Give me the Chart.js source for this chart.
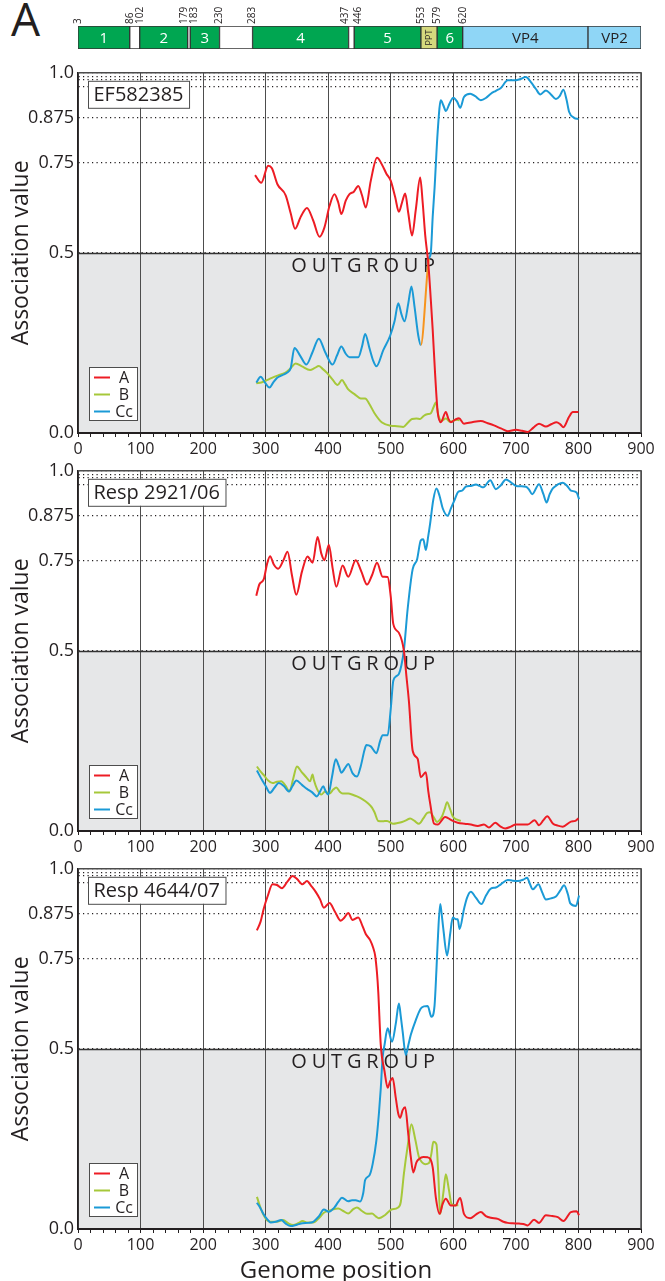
<!DOCTYPE html>
<html>
<head>
<meta charset="utf-8">
<script src="https://cdn.jsdelivr.net/npm/chart.js@4.4.1/dist/chart.umd.min.js"></script>
<style>
  body { margin: 0; background: #fff; }
  #wrap { position: relative; width: 665px; height: 1281px; overflow: hidden; font-family: "Open Sans", sans-serif; color: #231f20; }
  #wrap canvas { position: absolute; left: 0; }
  #letter { position: absolute; left: 11px; top: -5px; font-size: 46px; line-height: 1; }
  #xtitle { position: absolute; left: 0; width: 672px; top: 1254px; text-align: center; font-size: 24px; line-height: 30px; }
</style>
</head>
<body>
<div id="wrap">
  <div id="letter">A</div>
  <canvas id="map" width="665" height="60" style="top:0"></canvas>
  <canvas id="c1" width="665" height="407" style="top:58px"></canvas>
  <canvas id="c2" width="665" height="407" style="top:456px"></canvas>
  <canvas id="c3" width="665" height="427" style="top:854px"></canvas>
  <div id="xtitle">Genome position</div>
</div>
<script>
// genome map (nucleotide positions)
const mapName  = ['1', '', '2', '', '3', '', '4', '', '5', 'PPT', '6', 'VP4', 'VP2'];
const mapStart = [3, 86, 102, 179, 183, 230, 283, 437, 446, 553, 579, 620, 821];
const mapEnd   = [86, 102, 179, 183, 230, 283, 437, 446, 553, 579, 620, 821, 906];
const mapKind  = ['cre', 'gap', 'cre', 'gap', 'cre', 'gap', 'cre', 'gap', 'cre', 'ppt', 'cre', 'vp', 'vp'];
const mapTicks = [3, 86, 102, 179, 183, 230, 283, 437, 446, 553, 579, 620];

// axes
const yTickValues = [0, 0.5, 0.75, 0.875, 1.0];
const yTickText   = ['0.0', '0.5', '0.75', '0.875', '1.0'];
const yDotValues  = [0.9625, 0.98, 0.99];
const outgroupLevel = 0.5;

// panel names
const panelNames = ['EF582385', 'Resp 2921/06', 'Resp 4644/07'];

// EF582385
const ef_A = [[283,0.716],[293,0.695],[304,0.742],[310,0.735],[319,0.69],[332,0.66],[340,0.61],[347,0.567],[356,0.6],[366,0.625],[376,0.59],[386,0.545],[394,0.571],[402,0.63],[410,0.663],[416,0.64],[421,0.608],[428,0.645],[434,0.663],[441,0.67],[448,0.686],[454,0.66],[460,0.626],[468,0.7],[478,0.764],[486,0.745],[493,0.72],[500,0.70],[507,0.655],[513,0.614],[518,0.64],[523,0.665],[528,0.61],[534,0.548],[540,0.62],[547,0.709],[551,0.64],[555,0.55],[560,0.47],[564,0.37],[567,0.287],[571,0.16],[575,0.058],[580,0.03],[588,0.058],[592,0.04],[596,0.03],[603,0.037],[609,0.041],[617,0.026],[630,0.03],[644,0.033],[655,0.027],[665,0.021],[677,0.012],[687,0.005],[700,0.009],[710,0.006],[719,0.003],[728,0.015],[737,0.026],[748,0.018],[757,0.025],[765,0.03],[771,0.024],[776,0.016],[785,0.045],[791,0.058],[800,0.058]];
const ef_B = [[285,0.138],[293,0.14],[300,0.145],[310,0.153],[320,0.16],[331,0.167],[340,0.18],[348,0.193],[358,0.185],[371,0.175],[378,0.18],[385,0.186],[391,0.178],[398,0.167],[407,0.148],[415,0.133],[422,0.147],[427,0.135],[432,0.121],[442,0.108],[452,0.096],[459,0.096],[466,0.08],[474,0.055],[486,0.029],[500,0.02],[510,0.019],[520,0.017],[528,0.03],[534,0.039],[541,0.04],[547,0.039],[553,0.048],[558,0.052],[564,0.055],[568,0.07],[572,0.085],[576,0.05],[581,0.034],[588,0.04],[595,0.031],[605,0.037],[610,0.035]];
const ef_Cc = [[285,0.14],[292,0.156],[299,0.14],[306,0.126],[312,0.14],[318,0.153],[326,0.16],[334,0.167],[340,0.18],[346,0.236],[355,0.215],[365,0.19],[375,0.225],[385,0.262],[395,0.225],[407,0.19],[414,0.215],[421,0.24],[428,0.22],[434,0.21],[441,0.21],[448,0.21],[454,0.24],[459,0.275],[466,0.235],[472,0.2],[477,0.185],[488,0.23],[499,0.27],[506,0.31],[512,0.36],[517,0.33],[522,0.31],[528,0.36],[533,0.407],[538,0.35],[544,0.27],[548,0.244],[561,0.484],[564,0.5],[567,0.6],[570,0.68],[575,0.837],[580,0.924],[584,0.91],[588,0.894],[594,0.915],[600,0.931],[606,0.92],[611,0.903],[617,0.933],[627,0.942],[635,0.935],[644,0.924],[652,0.93],[660,0.942],[668,0.95],[676,0.958],[687,0.979],[697,0.979],[706,0.982],[716,0.988],[724,0.974],[732,0.955],[739,0.94],[748,0.951],[756,0.94],[764,0.927],[770,0.935],[776,0.953],[781,0.925],[785,0.892],[793,0.875],[800,0.872]];
const ef_bridge = [548, 561];   // Cc stretch drawn in orange

// Resp 2921/06
const r21_A = [[285,0.653],[290,0.685],[297,0.699],[302,0.74],[307,0.763],[313,0.74],[320,0.728],[328,0.75],[335,0.775],[342,0.71],[349,0.656],[358,0.72],[367,0.762],[375,0.745],[383,0.816],[389,0.77],[394,0.752],[401,0.795],[407,0.73],[413,0.678],[423,0.737],[432,0.706],[444,0.752],[453,0.72],[462,0.684],[470,0.71],[478,0.745],[487,0.706],[495,0.705],[500,0.65],[504,0.575],[513,0.55],[521,0.5],[525,0.43],[529,0.36],[535,0.223],[543,0.2],[548,0.149],[556,0.163],[560,0.11],[563,0.076],[569,0.021],[575,0.018],[587,0.039],[597,0.03],[607,0.023],[618,0.02],[628,0.018],[639,0.014],[649,0.018],[657,0.01],[667,0.023],[675,0.013],[683,0.007],[692,0.012],[700,0.018],[710,0.018],[719,0.018],[730,0.03],[737,0.016],[744,0.03],[750,0.041],[759,0.021],[767,0.015],[775,0.012],[788,0.026],[795,0.028],[800,0.035]];
const r21_B = [[286,0.179],[292,0.165],[298,0.153],[304,0.14],[311,0.133],[318,0.137],[325,0.138],[332,0.125],[338,0.11],[344,0.145],[350,0.179],[357,0.165],[366,0.147],[371,0.138],[375,0.157],[377,0.142],[382,0.117],[389,0.101],[395,0.11],[402,0.104],[408,0.115],[413,0.121],[418,0.11],[423,0.104],[432,0.104],[440,0.1],[446,0.096],[455,0.088],[463,0.078],[470,0.065],[474,0.052],[480,0.028],[487,0.027],[494,0.028],[504,0.02],[511,0.022],[518,0.025],[525,0.03],[531,0.035],[538,0.028],[545,0.02],[552,0.035],[558,0.05],[563,0.052],[568,0.04],[574,0.025],[578,0.03],[582,0.041],[586,0.06],[590,0.08],[595,0.06],[599,0.041],[605,0.032],[612,0.028]];
const r21_Cc = [[286,0.168],[294,0.142],[300,0.125],[307,0.106],[314,0.12],[321,0.133],[329,0.125],[337,0.11],[343,0.125],[349,0.14],[358,0.128],[366,0.117],[374,0.108],[382,0.096],[387,0.11],[392,0.124],[396,0.11],[400,0.101],[406,0.15],[412,0.199],[417,0.18],[421,0.162],[427,0.175],[432,0.186],[439,0.16],[446,0.151],[452,0.18],[458,0.225],[461,0.239],[468,0.235],[477,0.216],[483,0.25],[487,0.266],[495,0.266],[500,0.34],[504,0.417],[509,0.43],[513,0.436],[517,0.46],[521,0.502],[527,0.617],[535,0.727],[542,0.754],[548,0.807],[552,0.81],[556,0.78],[560,0.82],[563,0.855],[568,0.92],[573,0.951],[578,0.93],[583,0.896],[591,0.875],[596,0.895],[601,0.915],[608,0.942],[614,0.945],[620,0.956],[628,0.958],[636,0.962],[642,0.958],[648,0.954],[659,0.974],[668,0.949],[676,0.96],[684,0.976],[692,0.968],[700,0.958],[708,0.957],[716,0.956],[721,0.948],[726,0.935],[737,0.963],[744,0.935],[749,0.912],[754,0.935],[759,0.951],[767,0.962],[775,0.967],[782,0.958],[788,0.945],[797,0.94],[801,0.921]];

// Resp 4644/07
const r44_A = [[286,0.829],[292,0.854],[297,0.89],[303,0.923],[311,0.957],[318,0.955],[326,0.946],[335,0.965],[343,0.98],[350,0.972],[359,0.957],[366,0.966],[373,0.952],[380,0.936],[387,0.915],[393,0.892],[402,0.905],[411,0.88],[420,0.856],[426,0.865],[432,0.877],[439,0.858],[448,0.865],[455,0.84],[460,0.819],[467,0.802],[472,0.78],[475,0.759],[478,0.71],[480,0.658],[484,0.511],[490,0.438],[495,0.392],[499,0.41],[503,0.419],[508,0.364],[512,0.32],[515,0.309],[519,0.33],[523,0.338],[528,0.263],[532,0.2],[536,0.157],[541,0.185],[545,0.194],[552,0.2],[559,0.199],[567,0.171],[572,0.088],[578,0.042],[583,0.07],[588,0.084],[596,0.065],[604,0.065],[608,0.08],[611,0.086],[617,0.042],[627,0.03],[636,0.04],[644,0.047],[652,0.036],[660,0.031],[671,0.028],[680,0.02],[687,0.017],[695,0.016],[705,0.015],[712,0.014],[719,0.01],[729,0.026],[737,0.017],[748,0.038],[758,0.036],[767,0.033],[776,0.022],[788,0.047],[797,0.049],[801,0.038]];
const r44_B = [[286,0.089],[293,0.053],[298,0.035],[303,0.023],[310,0.02],[318,0.02],[328,0.025],[336,0.016],[344,0.011],[352,0.016],[359,0.022],[367,0.018],[376,0.018],[385,0.03],[393,0.045],[400,0.05],[405,0.053],[416,0.057],[424,0.05],[432,0.043],[440,0.055],[446,0.06],[454,0.05],[462,0.042],[470,0.043],[476,0.035],[481,0.03],[491,0.039],[496,0.047],[501,0.054],[511,0.059],[516,0.075],[521,0.154],[527,0.23],[533,0.291],[539,0.25],[545,0.2],[550,0.185],[555,0.18],[561,0.183],[565,0.21],[568,0.242],[573,0.235],[576,0.15],[579,0.042],[584,0.1],[588,0.152],[593,0.108],[597,0.07],[602,0.066],[608,0.066]];
const r44_Cc = [[286,0.073],[291,0.06],[296,0.043],[302,0.028],[308,0.018],[316,0.02],[325,0.025],[332,0.015],[340,0.008],[350,0.012],[359,0.016],[368,0.017],[376,0.02],[385,0.035],[393,0.054],[401,0.048],[410,0.06],[416,0.075],[422,0.087],[432,0.077],[438,0.08],[444,0.08],[451,0.076],[456,0.1],[459,0.136],[466,0.149],[471,0.18],[477,0.246],[481,0.32],[484,0.39],[487,0.477],[490,0.511],[495,0.557],[502,0.52],[508,0.57],[513,0.626],[516,0.59],[519,0.548],[524,0.483],[528,0.51],[532,0.539],[540,0.58],[548,0.612],[553,0.618],[559,0.619],[565,0.589],[570,0.621],[573,0.72],[575,0.796],[579,0.902],[581,0.88],[584,0.833],[590,0.759],[595,0.82],[599,0.865],[604,0.86],[607,0.86],[610,0.833],[617,0.888],[622,0.92],[628,0.936],[636,0.92],[645,0.902],[652,0.925],[660,0.945],[668,0.948],[676,0.957],[687,0.969],[695,0.967],[703,0.966],[712,0.97],[718,0.975],[722,0.96],[727,0.943],[736,0.957],[742,0.935],[748,0.915],[756,0.918],[764,0.923],[771,0.94],[777,0.954],[783,0.93],[787,0.904],[796,0.897],[801,0.926]];

const RED = '#ed1c24', GREEN = '#a6c83a', BLUE = '#1b9ad6', ORANGE = '#f7941d';
const INK = '#231f20', FRAME = '#4d4d4d';
const FONT = '"Open Sans", sans-serif';

Chart.defaults.font.family = FONT;
Chart.defaults.color = INK;
Chart.defaults.animation = false;

// ---------- genome map ----------
const kindColor = { cre: '#00a651', gap: '#ffffff', ppt: '#d5d97d', vp: '#8fd6f6' };

const mapLabels = {
  id: 'mapLabels',
  afterDatasetsDraw(chart) {
    const ctx = chart.ctx;
    const meta = chart.getDatasetMeta(0);
    const xs = chart.scales.x;
    ctx.save();
    meta.data.forEach((bar, i) => {
      const name = mapName[i];
      if (!name) return;
      const cx = (bar.x + bar.base) / 2;
      const cy = bar.y;
      ctx.textAlign = 'center';
      ctx.textBaseline = 'middle';
      if (mapKind[i] === 'ppt') {
        ctx.save();
        ctx.translate(cx, cy);
        ctx.rotate(-Math.PI / 2);
        ctx.font = '9px ' + FONT;
        ctx.fillStyle = INK;
        ctx.fillText(name, 0, 0.5);
        ctx.restore();
      } else {
        ctx.font = '15px ' + FONT;
        ctx.fillStyle = mapKind[i] === 'cre' ? '#ffffff' : INK;
        ctx.fillText(name, cx, cy + 1);
      }
    });
    // boundary positions above the bar, pushed apart where they crowd
    ctx.font = '10px ' + FONT;
    ctx.fillStyle = INK;
    ctx.textAlign = 'left';
    ctx.textBaseline = 'middle';
    mapTicks.forEach((v, i) => {
      let nudge = 0;
      if (i < mapTicks.length - 1 && mapTicks[i + 1] - v < 12) nudge -= 3.5;
      if (i > 0 && v - mapTicks[i - 1] < 12) nudge += 3.5;
      ctx.save();
      ctx.translate(xs.getPixelForValue(v) + nudge, chart.chartArea.top - 2);
      ctx.rotate(-Math.PI / 2);
      ctx.fillText(String(v), 0, 0);
      ctx.restore();
    });
    ctx.restore();
  }
};

new Chart(document.getElementById('map'), {
  type: 'bar',
  data: {
    labels: ['genome'],
    datasets: [{
      data: mapStart.map((s, i) => ({ y: 'genome', x: [s, mapEnd[i]] })),
      backgroundColor: mapKind.map(k => kindColor[k]),
      borderColor: '#333333',
      borderWidth: 1,
      borderSkipped: false,
      barThickness: 23
    }]
  },
  options: {
    indexAxis: 'y',
    responsive: false,
    layout: { padding: { left: 78, right: 24, top: 26, bottom: 11 } },
    scales: {
      x: { type: 'linear', min: 3, max: 906, display: false },
      y: { display: false }
    },
    plugins: { legend: { display: false }, tooltip: { enabled: false } }
  },
  plugins: [mapLabels]
});

// ---------- association panels ----------
const panelDeco = {
  id: 'panelDeco',
  beforeDraw(chart) {
    const { ctx, chartArea: ca, scales: { y } } = chart;
    const yMid = y.getPixelForValue(outgroupLevel);
    ctx.save();
    ctx.fillStyle = '#e6e7e8';
    ctx.fillRect(ca.left, yMid, ca.right - ca.left, ca.bottom - yMid);
    ctx.restore();
  },
  beforeDatasetsDraw(chart) {
    const { ctx, chartArea: ca, scales: { x, y } } = chart;
    const yMid = Math.round(y.getPixelForValue(outgroupLevel)) + 0.5;
    ctx.save();
    ctx.strokeStyle = FRAME;
    ctx.lineWidth = 1.5;
    ctx.beginPath();
    ctx.moveTo(ca.left, ca.top);
    ctx.lineTo(ca.right, ca.top);
    ctx.lineTo(ca.right, ca.bottom);
    ctx.stroke();
    ctx.strokeStyle = '#333333';
    ctx.lineWidth = 1.6;
    ctx.beginPath();
    ctx.moveTo(ca.left, yMid);
    ctx.lineTo(ca.right, yMid);
    ctx.stroke();
    // OUTGROUP, letter spaced
    const word = 'OUTGROUP';
    ctx.font = '20px ' + FONT;
    ctx.fillStyle = INK;
    ctx.textBaseline = 'middle';
    ctx.textAlign = 'left';
    const gap = 4.8;
    const widths = word.split('').map(ch => ctx.measureText(ch).width);
    const total = widths.reduce((a, b) => a + b, 0) + gap * (word.length - 1);
    let px = x.getPixelForValue(456) - total / 2;
    word.split('').forEach((ch, i) => {
      ctx.fillText(ch, px, yMid + 13);
      px += widths[i] + gap;
    });
    ctx.restore();
  },
  afterDatasetsDraw(chart, args, opts) {
    const { ctx, chartArea: ca } = chart;
    ctx.save();
    // sample name box
    ctx.font = '20px ' + FONT;
    const tw = ctx.measureText(opts.name).width;
    const bx = ca.left + 10, by = ca.top + 8, bw = tw + 11, bh = 27;
    ctx.fillStyle = '#ffffff';
    ctx.fillRect(bx, by, bw, bh);
    ctx.strokeStyle = FRAME;
    ctx.lineWidth = 1;
    ctx.strokeRect(bx + 0.5, by + 0.5, bw, bh);
    ctx.fillStyle = INK;
    ctx.textBaseline = 'middle';
    ctx.textAlign = 'left';
    ctx.fillText(opts.name, bx + 5.5, by + bh / 2 + 1);
    // legend box
    const lw = 48, lh = 53;
    const lx = ca.left + 11, ly = ca.bottom - 13 - lh;
    ctx.fillStyle = '#ffffff';
    ctx.fillRect(lx, ly, lw, lh);
    ctx.strokeStyle = FRAME;
    ctx.strokeRect(lx + 0.5, ly + 0.5, lw, lh);
    ctx.font = '16px ' + FONT;
    ctx.textAlign = 'center';
    chart.data.datasets.forEach((d, i) => {
      const yy = ly + 10.5 + i * 17;
      ctx.strokeStyle = d.borderColor;
      ctx.lineWidth = 2;
      ctx.beginPath();
      ctx.moveTo(lx + 5, yy);
      ctx.lineTo(lx + 21, yy);
      ctx.stroke();
      ctx.fillStyle = INK;
      ctx.fillText(d.label, lx + 35, yy + 1);
    });
    ctx.restore();
  }
};

function makePanel(id, name, a, b, cc, bridge, last) {
  const line = { borderWidth: 2, pointRadius: 0, fill: false, cubicInterpolationMode: 'monotone' };
  const ccSegment = bridge ? {
    borderColor: c => (c.p0.parsed.x >= bridge[0] && c.p1.parsed.x <= bridge[1]) ? ORANGE : undefined
  } : undefined;
  return new Chart(document.getElementById(id), {
    type: 'line',
    data: {
      datasets: [
        Object.assign({ label: 'A', data: a, borderColor: RED, order: 0 }, line),
        Object.assign({ label: 'B', data: b, borderColor: GREEN, order: 2 }, line),
        Object.assign({ label: 'Cc', data: cc, borderColor: BLUE, order: 1, segment: ccSegment }, line)
      ]
    },
    options: {
      responsive: false,
      layout: { padding: { left: 0, right: 24, top: 12, bottom: 0 } },
      scales: {
        x: {
          type: 'linear', min: 0, max: 900,
          afterFit: s => { s.height = last ? 52 : 32; },
          ticks: {
            stepSize: 20, autoSkip: false, maxRotation: 0, padding: 3,
            font: { size: 16 },
            callback: v => (v % 100 === 0 ? String(v) : '')
          },
          grid: {
            color: c => (c.tick && c.tick.value % 100 === 0 ? FRAME : 'rgba(0,0,0,0)'),
            lineWidth: 1,
            tickColor: INK,
            tickLength: 4
          },
          border: { color: INK, width: 2 }
        },
        y: {
          type: 'linear', min: 0, max: 1,
          afterFit: s => { s.width = 78; },
          afterBuildTicks: s => {
            s.ticks = yTickValues.concat(yDotValues).sort((p, q) => p - q).map(v => ({ value: v }));
          },
          ticks: {
            padding: 4, font: { size: 18 },
            callback: v => { const i = yTickValues.indexOf(v); return i < 0 ? '' : yTickText[i]; }
          },
          grid: { color: INK, lineWidth: 1.2, drawTicks: false },
          border: { color: INK, width: 1.5, dash: [1.2, 3.3] },
          title: {
            display: true, text: 'Association value',
            font: { size: 23 }, padding: { top: 8, bottom: 0 }
          }
        }
      },
      plugins: {
        legend: { display: false },
        tooltip: { enabled: false },
        panelDeco: { name: name }
      }
    },
    plugins: [panelDeco]
  });
}

makePanel('c1', panelNames[0], ef_A, ef_B, ef_Cc, ef_bridge, false);
makePanel('c2', panelNames[1], r21_A, r21_B, r21_Cc, null, false);
makePanel('c3', panelNames[2], r44_A, r44_B, r44_Cc, null, true);
</script>
</body>
</html>
